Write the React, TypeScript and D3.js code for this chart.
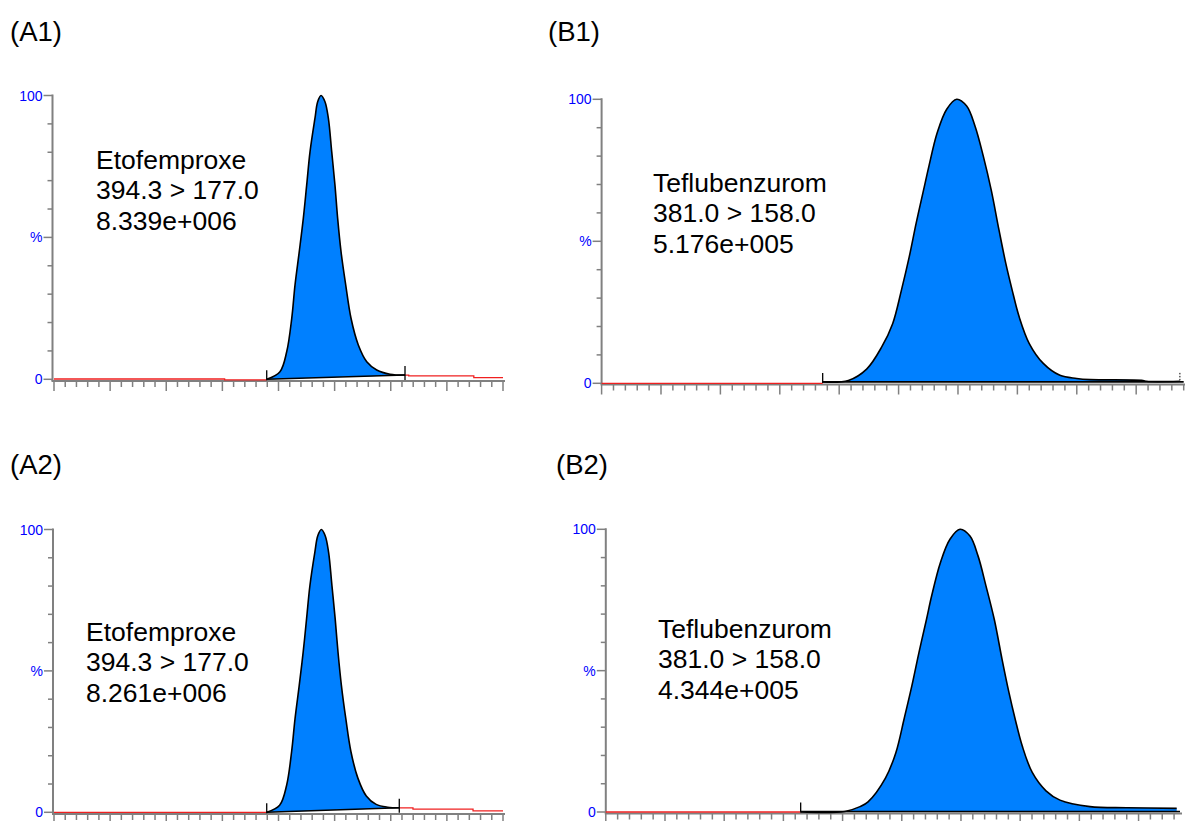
import React from "react";
import * as d3 from "d3";

type Pt = [number, number];

// panel texts
const panelTitles = ["(A1)", "(B1)", "(A2)", "(B2)"];
const compoundNames = ["Etofemproxe", "Teflubenzurom", "Etofemproxe", "Teflubenzurom"];
const transitions = ["394.3 > 177.0", "381.0 > 158.0", "394.3 > 177.0", "381.0 > 158.0"];
const peakAreas = ["8.339e+006", "5.176e+005", "8.261e+006", "4.344e+005"];
const yTickValues = [0, 10, 20, 30, 40, 50, 60, 70, 80, 90, 100];
const yTickLabels: Record<number, string> = { 0: "0", 50: "%", 100: "100" };

// (A1) Etofemproxe — [time tick, % intensity]
const a1Peak: Pt[] = [
  [18.95, 0], [20.13, 2.7], [20.73, 9.7], [21.18, 21.5], [21.47, 33.2], [21.85, 45],
  [22.21, 56.7], [22.51, 68.4], [22.81, 80.2], [23.25, 92], [23.49, 97.8], [23.79, 100],
  [24.14, 97.8], [24.44, 92], [24.74, 80.2], [25.03, 68.4], [25.27, 56.7], [25.57, 45],
  [25.99, 33.2], [26.46, 21.5], [27.11, 12.1], [27.86, 6.2], [28.75, 3.3], [29.93, 1.8],
  [31.27, 1.5],
];
const a1Baseline: Pt[] = [[18.95, 0], [31.27, 1.5]];
const a1TraceBefore: Pt[] = [[0, 0.1], [15.2, -0.2], [18.95, -0.2]];
const a1TraceAfter: Pt[] = [[31.27, 1.5], [31.6, 1.2], [37.4, 0.6], [40, 0.6]];

// (B1) Teflubenzurom
const b1Peak: Pt[] = [
  [18.61, 0.5], [20.77, 1], [22.31, 5], [23.58, 12.8], [24.5, 21], [25.25, 33],
  [25.9, 44.6], [26.48, 56.4], [27.1, 68], [27.55, 76.4], [28.25, 88.2], [29.05, 96.5],
  [29.89, 100], [30.73, 97.6], [31.43, 90.6], [32.13, 80], [32.8, 68], [33.45, 54],
  [34.02, 42.3], [34.55, 33], [35.15, 23.4], [36.0, 14], [37.18, 7], [38.58, 2.8],
  [39.99, 1.7], [41.11, 1.3], [45.57, 1.0], [45.88, 0.7], [48.68, 0.7],
];
const b1Baseline: Pt[] = [[18.61, 0.5], [48.68, 0.5]];
const b1TraceBefore: Pt[] = [[0, 0], [18.61, 0]];
const b1TraceAfter: Pt[] = [];

// (A2) Etofemproxe
const a2Peak: Pt[] = [
  [18.95, 0], [20.1, 2.5], [20.72, 9.5], [21.17, 21.5], [21.47, 33], [21.85, 45],
  [22.2, 56.7], [22.5, 68.4], [22.8, 80.2], [23.24, 92], [23.5, 97.8], [23.82, 100],
  [24.16, 97.8], [24.46, 92], [24.76, 80.2], [25.05, 68.4], [25.3, 56.7], [25.6, 45],
  [26.0, 33], [26.45, 21.5], [27.08, 12], [27.82, 5.8], [28.7, 2.8], [29.72, 1.8],
  [30.76, 1.6],
];
const a2Baseline: Pt[] = [[18.95, 0], [30.76, 1.6]];
const a2TraceBefore: Pt[] = [[0, 0], [18.95, 0]];
const a2TraceAfter: Pt[] = [[30.76, 1.6], [31.98, 1.1], [37.33, 0.5], [40, 0.5]];

// (B2) Teflubenzurom
const b2Peak: Pt[] = [
  [16.46, 0], [20.2, 0.2], [21.47, 1.9], [22.15, 3.6], [23.62, 12], [24.5, 21],
  [25.2, 33], [25.85, 44.6], [26.45, 56.4], [27.08, 68], [27.52, 76.4], [28.26, 88.2],
  [29.07, 96.5], [29.92, 100], [30.76, 97.6], [31.44, 90.6], [32.11, 80], [32.82, 68],
  [33.47, 54], [34.05, 42.3], [34.57, 33], [35.17, 23.4], [36.02, 14], [37.18, 7.5],
  [38.36, 4.2], [40.9, 1.9], [44.0, 1.5], [48.22, 1.3],
];
const b2Baseline: Pt[] = [[16.46, 0.2], [48.5, 0.2]];
const b2TraceBefore: Pt[] = [[0, 0], [16.46, 0]];
const b2TraceAfter: Pt[] = [];

// layout per panel
const layouts = [
  { axisX: 52.5, x0: 54, x1: 503, xMax: 40, axisEnd: 505, yBottom: 379.3, yTop: 95.5, xAxisY: 381, titleX: 10, titleY: 41, labelX: 96, labelY: 169, markers: "both" },
  { axisX: 601.6, x0: 601.6, x1: 1183.7, xMax: 49, axisEnd: 1185, yBottom: 383.3, yTop: 99.3, xAxisY: 384.5, titleX: 548, titleY: 41, labelX: 653, labelY: 192, markers: "startDotted" },
  { axisX: 53, x0: 54, x1: 503, xMax: 40, axisEnd: 505, yBottom: 812.3, yTop: 529.5, xAxisY: 814, titleX: 10, titleY: 474, labelX: 86, labelY: 641, markers: "both" },
  { axisX: 605.8, x0: 605.8, x1: 1180, xMax: 48.5, axisEnd: 1182, yBottom: 812, yTop: 529.3, xAxisY: 813.5, titleX: 556, titleY: 474, labelX: 658, labelY: 638, markers: "start" },
];

const peaks = [a1Peak, b1Peak, a2Peak, b2Peak];
const baselines = [a1Baseline, b1Baseline, a2Baseline, b2Baseline];
const tracesBefore = [a1TraceBefore, b1TraceBefore, a2TraceBefore, b2TraceBefore];
const tracesAfter = [a1TraceAfter, b1TraceAfter, a2TraceAfter, b2TraceAfter];

const FONT = "'Liberation Sans', Arial, Helvetica, sans-serif";
const AXIS_GREY = "#808080";

function Panel({ i }: { i: number }) {
  const L = layouts[i];
  const x = d3.scaleLinear().domain([0, L.xMax]).range([L.x0, L.x1]);
  const y = d3.scaleLinear().domain([0, 100]).range([L.yBottom, L.yTop]);
  const bl = baselines[i];
  const base = d3
    .scaleLinear()
    .domain(bl.map(d => d[0]))
    .range(bl.map(d => d[1]))
    .clamp(true);

  const smooth = d3.curveCatmullRom.alpha(0.5);
  const areaGen = d3
    .area<Pt>()
    .x(d => x(d[0]))
    .y0(d => y(base(d[0])))
    .y1(d => y(d[1]))
    .curve(smooth);
  const lineGen = d3
    .line<Pt>()
    .x(d => x(d[0]))
    .y(d => y(d[1]))
    .curve(smooth);
  const stepGen = d3
    .line<Pt>()
    .x(d => x(d[0]))
    .y(d => y(d[1]))
    .curve(d3.curveStepAfter);

  const xTicks = d3.range(0, Math.floor(L.xMax) + 1);
  const start = bl[0];
  const end = bl[bl.length - 1];

  return (
    <g>
      <text x={L.titleX} y={L.titleY} fontSize={27.5} fontFamily={FONT} fill="#000">
        {panelTitles[i]}
      </text>

      {/* y axis */}
      <line x1={L.axisX} x2={L.axisX} y1={y(100) - 1} y2={L.xAxisY} stroke={AXIS_GREY} strokeWidth={2} />
      {yTickValues.map(v => {
        const major = v in yTickLabels;
        return (
          <g key={v}>
            <line
              x1={L.axisX - (major ? 9 : 5)}
              x2={L.axisX}
              y1={y(v)}
              y2={y(v)}
              stroke={AXIS_GREY}
              strokeWidth={1.5}
            />
            {major && (
              <text
                x={L.axisX - 10}
                y={y(v)}
                dy="0.36em"
                textAnchor="end"
                fontSize={14}
                fontFamily={FONT}
                fill="#0000ff"
              >
                {yTickLabels[v]}
              </text>
            )}
          </g>
        );
      })}

      {/* x axis */}
      <line x1={L.axisX - 1} x2={L.axisEnd} y1={L.xAxisY} y2={L.xAxisY} stroke={AXIS_GREY} strokeWidth={2} />
      {xTicks.map(t => (
        <line
          key={t}
          x1={x(t)}
          x2={x(t)}
          y1={L.xAxisY}
          y2={L.xAxisY + (t % 5 === 0 ? 10 : 6)}
          stroke={AXIS_GREY}
          strokeWidth={1.5}
        />
      ))}

      {/* raw trace outside integration */}
      {tracesBefore[i].length > 0 && (
        <path d={stepGen(tracesBefore[i]) || ""} fill="none" stroke="#f02020" strokeWidth={1.3} />
      )}
      {tracesAfter[i].length > 0 && (
        <path d={stepGen(tracesAfter[i]) || ""} fill="none" stroke="#f02020" strokeWidth={1.3} />
      )}

      {/* integrated peak */}
      <path d={areaGen(peaks[i]) || ""} fill="#0080ff" stroke="none" />
      <path d={lineGen(peaks[i]) || ""} fill="none" stroke="#000" strokeWidth={1.6} />
      <line
        x1={x(start[0])}
        x2={x(i % 2 === 1 ? L.xMax : end[0])}
        y1={y(start[1])}
        y2={y(end[1])}
        stroke="#000"
        strokeWidth={1.6}
      />

      {/* integration markers */}
      <line x1={x(start[0])} x2={x(start[0])} y1={y(start[1]) - 9} y2={y(start[1]) + 1} stroke="#000" strokeWidth={1.3} />
      {L.markers === "both" && (
        <line x1={x(end[0])} x2={x(end[0])} y1={y(end[1]) - 9} y2={y(end[1]) + 5} stroke="#000" strokeWidth={1.3} />
      )}
      {L.markers === "startDotted" && (
        <line
          x1={x(end[0])}
          x2={x(end[0])}
          y1={y(end[1]) - 9}
          y2={y(end[1])}
          stroke="#000"
          strokeWidth={1}
          strokeDasharray="1.5,1.5"
        />
      )}

      {/* annotation */}
      {[compoundNames[i], transitions[i], peakAreas[i]].map((s, k) => (
        <text key={k} x={L.labelX} y={L.labelY + k * 30.3} fontSize={26.5} fontFamily={FONT} fill="#000">
          {s}
        </text>
      ))}
    </g>
  );
}

export default function App() {
  return (
    <svg
      width={1187}
      height={821}
      style={{ position: "absolute", left: 0, top: 0, background: "#fff" }}
    >
      <rect width={1187} height={821} fill="#fff" />
      {[0, 1, 2, 3].map(i => (
        <Panel key={i} i={i} />
      ))}
    </svg>
  );
}
